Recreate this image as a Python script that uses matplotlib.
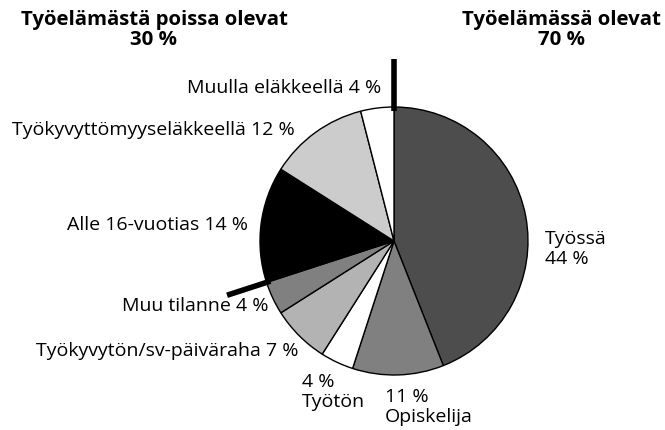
import numpy as np
import matplotlib.pyplot as plt

plt.rcParams['font.family'] = ['Open Sans', 'DejaVu Sans']

# Pie data, clockwise from 12 o'clock
labels = ['Työssä', 'Opiskelija', 'Työtön', 'Työkyvytön/sv-päiväraha',
          'Muu tilanne', 'Alle 16-vuotias', 'Työkyvyttömyyseläkkeellä',
          'Muulla eläkkeellä']
values = [44, 11, 4, 7, 4, 14, 12, 4]
colors = ['#4d4d4d', '#808080', '#ffffff', '#b3b3b3',
          '#808080', '#000000', '#cccccc', '#ffffff']
groups = ['Työelämässä olevat', 'Työelämästä poissa olevat']
group_values = [70, 30]

H = 431
cx, cy, R = 394, H - 242, 134

fig = plt.figure(figsize=(6.65, 4.31), dpi=100)
ax = fig.add_axes([0, 0, 1, 1])
ax.pie(values, colors=colors, startangle=90, counterclock=False,
       center=(cx, cy), radius=R,
       wedgeprops=dict(edgecolor='black', linewidth=1))
ax.set_xlim(0, 665)
ax.set_ylim(0, H)
ax.set_aspect('equal')
ax.axis('off')

# thick separator lines: at top and at the 70 % boundary
for frac, r_out in [(0, 1.36), (group_values[0] / 100, 1.31)]:
    a = np.deg2rad(90 - 360 * frac)
    ax.plot([cx + 0.97 * R * np.cos(a), cx + r_out * R * np.cos(a)],
            [cy + 0.97 * R * np.sin(a), cy + r_out * R * np.sin(a)],
            color='black', lw=4, solid_capstyle='butt')

fs = 14
def t(x, y, s, **kw):
    kw.setdefault('fontsize', fs)
    ax.text(x, H - y, s, va='center', **kw)

t(381, 88, f'{labels[7]} {values[7]} %', ha='right')
t(295, 130, f'{labels[6]} {values[6]} %', ha='right')
t(248, 225, f'{labels[5]} {values[5]} %', ha='right')
t(269, 306, f'{labels[4]} {values[4]} %', ha='right')
t(298, 351, f'{labels[3]} {values[3]} %', ha='right')
t(302, 392, f'{values[2]} %\n{labels[2]}', ha='left', linespacing=1.1)
t(385, 407, f'{values[1]} %\n{labels[1]}', ha='left', linespacing=1.1)
t(545, 249, f'{labels[0]}\n{values[0]} %', ha='left', linespacing=1.2)

t(154, 30, f'{groups[1]}\n{group_values[1]} %', ha='center', fontsize=14.7,
  fontweight='bold', linespacing=0.95)
t(561, 30, f'{groups[0]}\n{group_values[0]} %', ha='center', fontsize=14.7,
  fontweight='bold', linespacing=0.95)

fig.savefig('out.png', dpi=100)
